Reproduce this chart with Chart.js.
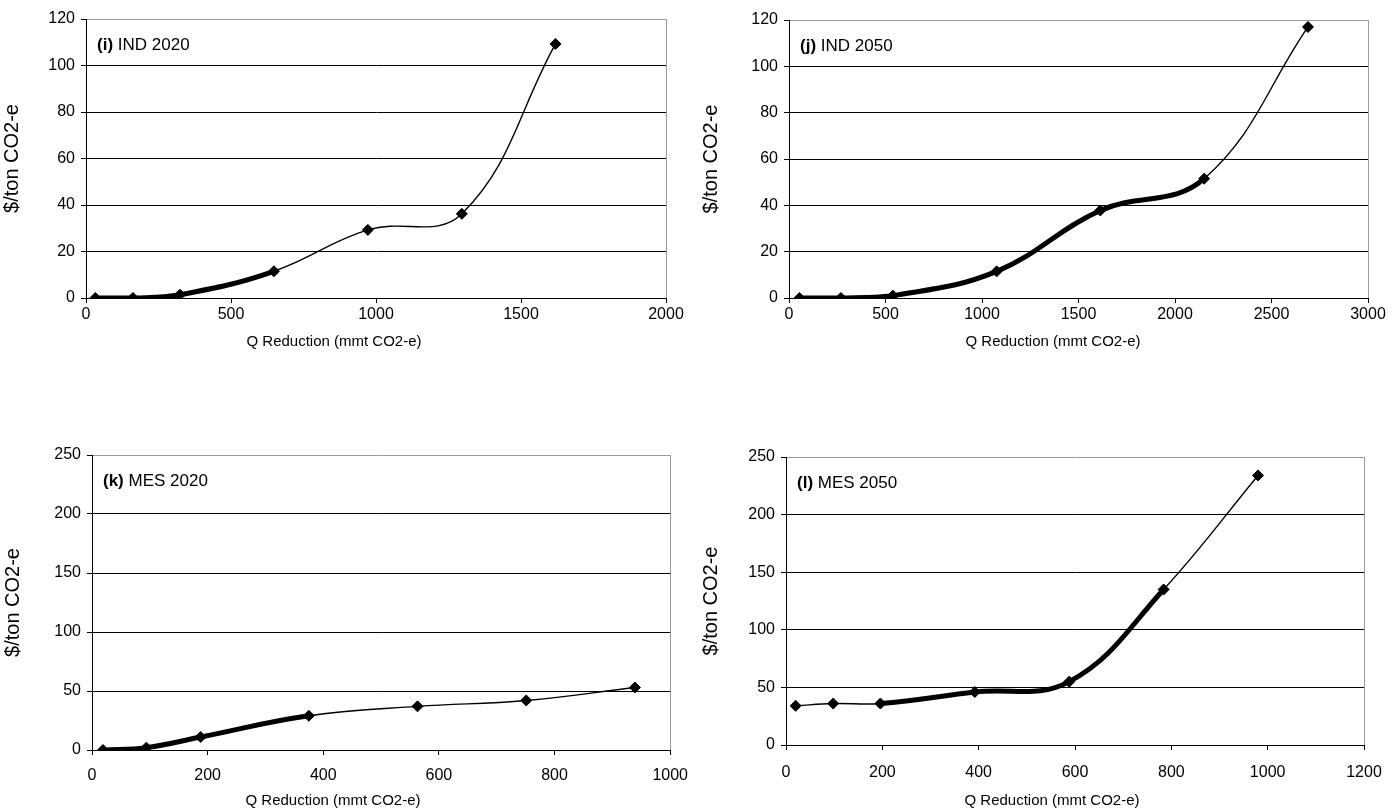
<!DOCTYPE html>
<html>
<head>
<meta charset="utf-8">
<script src="https://cdn.jsdelivr.net/npm/chart.js@4.4.1/dist/chart.umd.min.js"></script>
<style>
  html, body { margin: 0; padding: 0; background: #fff; }
  body { width: 1398px; height: 812px; position: relative; overflow: hidden; }
  .panel { position: absolute; }
</style>
</head>
<body>
<div class="panel" style="left:0;top:0;width:699px;height:400px;"><canvas id="chartI"></canvas></div>
<div class="panel" style="left:699px;top:0;width:699px;height:400px;"><canvas id="chartJ"></canvas></div>
<div class="panel" style="left:0;top:406px;width:699px;height:406px;"><canvas id="chartK"></canvas></div>
<div class="panel" style="left:699px;top:406px;width:699px;height:406px;"><canvas id="chartL"></canvas></div>
<script>
// (i) IND 2020
const indQ2020 = [32, 162, 324, 648, 972, 1296, 1619];
const indCost2020 = [0, 0, 1.4, 11.5, 29.3, 36.2, 109.3];
// (j) IND 2050
const indQ2050 = [54, 269, 538, 1076, 1613, 2151, 2689];
const indCost2050 = [0, 0, 1, 11.5, 37.8, 51.5, 117];
// (k) MES 2020
const mesQ2020 = [19, 94, 188, 375, 563, 751, 939];
const mesCost2020 = [0, 2, 11, 29, 37, 42, 53];
// (l) MES 2050
const mesQ2050 = [20, 98, 196, 392, 588, 784, 980];
const mesCost2050 = [34, 36, 36, 46, 55, 135, 234];

const X_TITLE = "Q Reduction (mmt CO2-e)";
const Y_TITLE = "$/ton CO2-e";
const FONT = "'Liberation Sans', Arial, sans-serif";

// panel tag top-left inside the plot, x title centred under the whole panel (Excel style)
const panelText = {
  id: "panelText",
  afterDraw(chart, _args, opts) {
    const { ctx, chartArea } = chart;
    ctx.save();
    ctx.fillStyle = "#000";
    ctx.textBaseline = "middle";
    ctx.font = "bold 17px " + FONT;
    const x = chartArea.left + 11;
    const y = chartArea.top + 26;
    ctx.fillText(opts.tag, x, y);
    const w = ctx.measureText(opts.tag + " ").width;
    ctx.font = "17px " + FONT;
    ctx.fillText(opts.name, x + w, y);

    ctx.font = "15px " + FONT;
    ctx.textAlign = "center";
    ctx.fillText(X_TITLE, opts.titleX, chartArea.bottom + opts.titleDy);
    ctx.restore();
  },
};

function makeChart(id, cfg) {
  const points = cfg.q.map((q, i) => ({ x: q, y: cfg.cost[i] }));
  const inThick = (i) => i >= cfg.thick[0] && i < cfg.thick[1];
  const box = cfg.box;
  return new Chart(document.getElementById(id), {
    type: "line",
    data: {
      datasets: [{
        data: points,
        borderColor: "#000",
        borderWidth: 1.4,
        borderCapStyle: "round",
        borderJoinStyle: "round",
        tension: 0.4,
        pointStyle: "rectRot",
        pointRadius: 5.5,
        pointBackgroundColor: "#000",
        pointBorderColor: "#000",
        pointBorderWidth: 1,
        segment: {
          borderWidth: (ctx) => (inThick(ctx.p0DataIndex) ? 5 : 1.4),
        },
      }],
    },
    options: {
      responsive: true,
      maintainAspectRatio: false,
      animation: false,
      events: [],
      layout: { padding: { left: 0, top: box.top, right: box.right, bottom: box.bottom } },
      plugins: {
        legend: { display: false },
        tooltip: { enabled: false },
        panelText: { tag: cfg.tag, name: cfg.name, titleX: box.titleX, titleDy: box.titleDy },
      },
      scales: {
        x: {
          type: "linear",
          min: 0,
          max: cfg.xMax,
          ticks: {
            stepSize: cfg.xStep,
            color: "#000",
            padding: box.xPad,
            font: { family: FONT, size: 16 },
            callback: (v) => String(v),
          },
          grid: {
            color: (c) => (c.tick && c.tick.value === cfg.xMax ? "#9a9a9a" : "rgba(0,0,0,0)"),
            tickColor: "#000",
            tickLength: 5,
            lineWidth: 1,
          },
          border: { color: "#000", width: 1 },
          afterFit: (s) => { s.height = box.xh; },
        },
        y: {
          min: 0,
          max: cfg.yMax,
          ticks: {
            stepSize: cfg.yStep,
            color: "#000",
            padding: 6,
            font: { family: FONT, size: 16 },
            callback: (v) => String(v),
          },
          grid: {
            color: (c) => (c.tick && c.tick.value === cfg.yMax ? "#9a9a9a" : "#000"),
            tickColor: "#000",
            tickLength: 5,
            lineWidth: 1,
          },
          border: { color: "#000", width: 1 },
          title: { display: true, text: Y_TITLE, color: "#000", padding: { top: box.yTitlePad }, font: { family: FONT, size: 20 } },
          afterFit: (s) => { s.width = box.left; },
        },
      },
    },
    plugins: [panelText],
  });
}

makeChart("chartI", {
  q: indQ2020, cost: indCost2020, tag: "(i)", name: "IND 2020",
  xMax: 2000, xStep: 500, yMax: 120, yStep: 20, thick: [0, 3],
  box: { left: 86, top: 19, right: 33, bottom: 49, xh: 53, xPad: 2, yTitlePad: 0, titleX: 334, titleDy: 44 },
});
makeChart("chartJ", {
  q: indQ2050, cost: indCost2050, tag: "(j)", name: "IND 2050",
  xMax: 3000, xStep: 500, yMax: 120, yStep: 20, thick: [0, 5],
  box: { left: 90, top: 20, right: 30, bottom: 49, xh: 53, xPad: 2, yTitlePad: 0, titleX: 354, titleDy: 44 },
});
makeChart("chartK", {
  q: mesQ2020, cost: mesCost2020, tag: "(k)", name: "MES 2020",
  xMax: 1000, xStep: 200, yMax: 250, yStep: 50, thick: [0, 3],
  box: { left: 92, top: 49, right: 26, bottom: 3, xh: 59, xPad: 11, yTitlePad: 1, titleX: 333, titleDy: 51 },
});
makeChart("chartL", {
  q: mesQ2050, cost: mesCost2050, tag: "(l)", name: "MES 2050",
  xMax: 1200, xStep: 200, yMax: 250, yStep: 50, thick: [2, 5],
  box: { left: 87, top: 51, right: 34, bottom: 3, xh: 64, xPad: 13, yTitlePad: 0, titleX: 353, titleDy: 56 },
});
</script>
</body>
</html>
